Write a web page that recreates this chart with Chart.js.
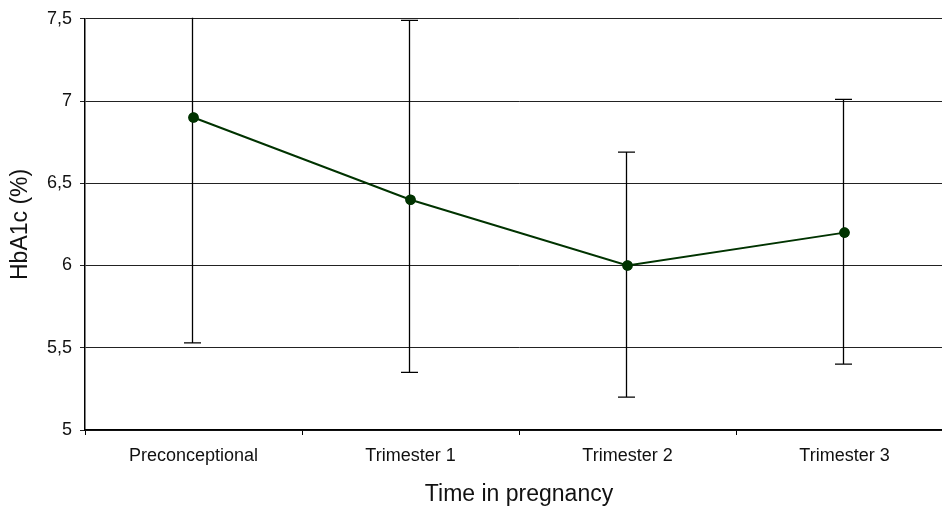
<!DOCTYPE html>
<html><head><meta charset="utf-8">
<script src="https://cdn.jsdelivr.net/npm/chart.js@4"></script>
<style>
html,body{margin:0;padding:0;overflow:hidden;background:#fff;}
#wrap{width:960px;height:508px;position:relative;}
</style></head>
<body>
<div id="wrap"><canvas id="c" width="960" height="508"></canvas></div>
<script>
const categories = ["Preconceptional", "Trimester 1", "Trimester 2", "Trimester 3"];
const meanValues = [6.9, 6.4, 6.0, 6.2];
const errorLow = [5.53, 5.35, 5.2, 5.4];
const errorHigh = [8.27, 7.49, 6.69, 7.01];
const yMin = 5, yMax = 7.5, yStep = 0.5;

const errorBarPlugin = {
  id: 'errorBars',
  afterDatasetsDraw(chart) {
    const ctx = chart.ctx;
    const ys = chart.scales.y;
    const meta = chart.getDatasetMeta(0);
    const area = chart.chartArea;
    ctx.save();
    ctx.beginPath();
    ctx.rect(area.left, area.top - 1, area.right - area.left, area.bottom - area.top + 2);
    ctx.clip();
    ctx.strokeStyle = '#000';
    ctx.lineWidth = 1.3;
    meta.data.forEach((pt, i) => {
      const x = Math.round(pt.x) - 1.5;
      const yl = ys.getPixelForValue(errorLow[i]);
      const yh = ys.getPixelForValue(errorHigh[i]);
      ctx.beginPath();
      ctx.moveTo(x, yl); ctx.lineTo(x, yh);
      ctx.moveTo(x - 8.5, yl); ctx.lineTo(x + 8.5, yl);
      ctx.moveTo(x - 8.5, yh); ctx.lineTo(x + 8.5, yh);
      ctx.stroke();
    });
    ctx.restore();
    meta.data.forEach(pt => {
      ctx.save();
      ctx.fillStyle = '#003300';
      ctx.beginPath();
      ctx.arc(pt.x, pt.y, 5.3, 0, Math.PI * 2);
      ctx.fill();
      ctx.restore();
    });
  }
};

new Chart(document.getElementById('c'), {
  type: 'line',
  data: {
    labels: categories,
    datasets: [{
      data: meanValues,
      borderColor: '#003300',
      backgroundColor: '#003300',
      borderWidth: 2,
      pointRadius: 5,
      pointBackgroundColor: '#003300',
      pointBorderWidth: 0,
      tension: 0
    }]
  },
  options: {
    responsive: false,
    animation: false,
    devicePixelRatio: 1,
    layout: { padding: { top: 16, right: 7, left: 0, bottom: 0 } },
    plugins: { legend: { display: false }, tooltip: { enabled: false } },
    scales: {
      x: {
        type: 'category',
        offset: true,
        grid: { offset: true, drawOnChartArea: false, tickLength: 5, color: '#000', lineWidth: 1 },
        border: { color: '#000', width: 1.5 },
        ticks: { color: '#111', font: { family: 'Liberation Sans', size: 18 }, padding: 10, maxRotation: 0 },
        title: { display: true, text: 'Time in pregnancy', color: '#111', font: { family: 'Liberation Sans', size: 23 }, padding: { top: 4, bottom: 0 } },
        afterFit(s) { s.height = 78; }
      },
      y: {
        min: yMin, max: yMax,
        grid: { color: '#222', lineWidth: 1, tickLength: 5 },
        border: { color: '#000', width: 1.5 },
        ticks: {
          stepSize: yStep, color: '#111', padding: 8,
          font: { family: 'Liberation Sans', size: 18 },
          callback: v => String(v).replace('.', ',')
        },
        title: { display: true, text: 'HbA1c (%)', color: '#111', font: { family: 'Liberation Sans', size: 23 }, padding: { top: 7, bottom: 0 } },
        afterFit(s) { s.width = 85; }
      }
    }
  },
  plugins: [errorBarPlugin]
});
</script>
</body></html>
